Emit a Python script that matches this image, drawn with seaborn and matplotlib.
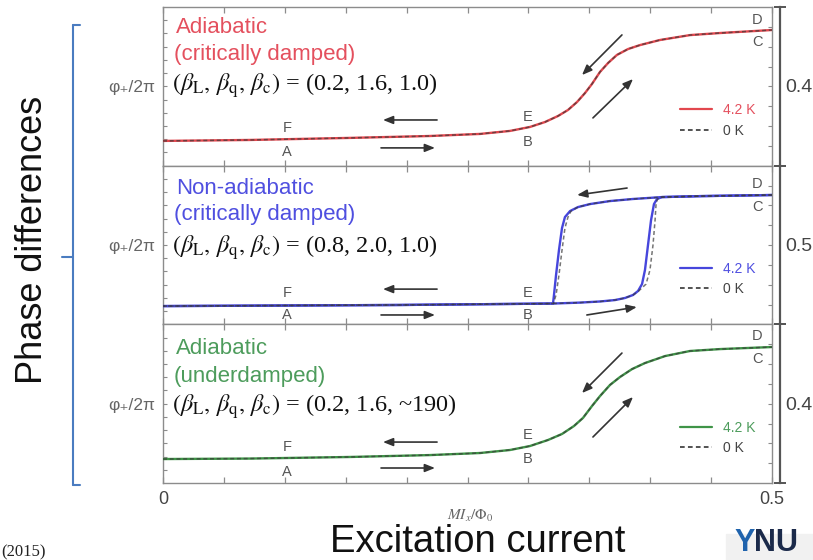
import matplotlib
matplotlib.use("Agg")
import numpy as np
import pandas as pd
import matplotlib.pyplot as plt
import seaborn as sns
from matplotlib.lines import Line2D
from matplotlib.patches import Rectangle
from matplotlib.ticker import MultipleLocator, FixedLocator, FuncFormatter

# ---------------- data (x = M Ix / Phi0, y = normalised phase in each panel) ----------------
red_x = [0, 0.0714, 0.1535, 0.2192, 0.2603, 0.2849, 0.3013, 0.3136, 0.3243, 0.3325, 0.3399,
         0.3465, 0.3522, 0.3588, 0.3654, 0.3727, 0.3818, 0.3916, 0.4080, 0.4327, 0.4573, 0.5]
red_y = [0.156, 0.162, 0.175, 0.187, 0.200, 0.219, 0.244, 0.275, 0.313, 0.351, 0.401,
         0.458, 0.515, 0.591, 0.647, 0.698, 0.735, 0.760, 0.792, 0.823, 0.836, 0.855]
red0_y = [0.156, 0.162, 0.175, 0.187, 0.200, 0.219, 0.244, 0.275, 0.313, 0.351, 0.401,
          0.458, 0.515, 0.591, 0.647, 0.698, 0.735, 0.760, 0.792, 0.823, 0.836, 0.855]

green_x = [0, 0.0714, 0.1535, 0.2192, 0.2603, 0.2849, 0.3013, 0.3161, 0.3276, 0.3374, 0.3448,
           0.3522, 0.3588, 0.3670, 0.3752, 0.3851, 0.3957, 0.4122, 0.4327, 0.4573, 0.5]
green_y = [0.151, 0.154, 0.164, 0.176, 0.189, 0.208, 0.233, 0.271, 0.309, 0.359, 0.410,
           0.485, 0.548, 0.618, 0.668, 0.718, 0.756, 0.800, 0.832, 0.844, 0.857]
green0_y = [0.151, 0.154, 0.164, 0.176, 0.189, 0.208, 0.233, 0.271, 0.309, 0.359, 0.410,
            0.485, 0.548, 0.618, 0.668, 0.718, 0.756, 0.800, 0.832, 0.844, 0.857]

blue_fwd_x = [0, 0.1946, 0.3202, 0.3424, 0.3588, 0.3711, 0.3793, 0.3859, 0.3900, 0.3933,
              0.3957, 0.3982, 0.4007, 0.4031, 0.4056, 0.4097, 0.4409, 0.5]
blue_fwd_y = [0.115, 0.122, 0.131, 0.137, 0.144, 0.153, 0.166, 0.185, 0.210, 0.254,
              0.342, 0.500, 0.657, 0.758, 0.790, 0.802, 0.808, 0.815]
blue0_fwd_x = [0, 0.1946, 0.3202, 0.3424, 0.3588, 0.3711, 0.3793, 0.3859, 0.3905, 0.3966,
               0.3998, 0.4023, 0.4040, 0.4048, 0.4060, 0.4097, 0.4409, 0.5]
blue_bwd_x = [0.5, 0.4409, 0.4097, 0.3859, 0.3670, 0.3506, 0.3407, 0.3342, 0.3300, 0.3276,
              0.3251, 0.3227, 0.3210, 0.3202, 0.1946, 0]
blue_bwd_y = [0.815, 0.808, 0.802, 0.790, 0.777, 0.758, 0.739, 0.714, 0.676, 0.607,
              0.468, 0.311, 0.185, 0.131, 0.122, 0.115]
blue0_bwd_x = [0.5, 0.4409, 0.4097, 0.3859, 0.3670, 0.3506, 0.3407, 0.3350, 0.3325, 0.3300,
               0.3276, 0.3251, 0.3227, 0.3205, 0.1946, 0]

panel_titles = [["Adiabatic", "(critically damped)"],
                ["Non-adiabatic", "(critically damped)"],
                ["Adiabatic", "(underdamped)"]]
panel_params = ["(0.2, 1.6, 1.0)", "(0.8, 2.0, 1.0)", "(0.2, 1.6, ~190)"]
right_labels = ["0.4", "0.5", "0.4"]
legend_labels = ["4.2 K", "0 K"]
x_ticklabels = {0.0: "0", 0.5: "0.5"}

# ---------------- styling ----------------
sns.set_theme(style="white")
plt.rcParams['font.family'] = ['Liberation Sans', 'DejaVu Sans']
plt.rcParams['mathtext.fontset'] = 'stix'

line_cols = ["#e2474e", "#4646dc", "#3f9447"]
text_cols = ["#e4505e", "#4f4fe0", "#4d9c5c"]
frame_col = "#8c8c8c"
dash_style = (0, (2.6, 1.8))

fig = plt.figure(figsize=(8.13, 5.6), dpi=100)
gs = fig.add_gridspec(3, 1, left=163/813, right=772/813, top=1-7/560, bottom=1-483/560, hspace=0)
axes = [fig.add_subplot(gs[i]) for i in range(3)]

letters = [
    dict(F=(0.1018, 0.238), A=(0.1018, 0.086), E=(0.2995, 0.307), B=(0.2995, 0.149), D=(0.4877, 0.918), C=(0.4877, 0.779)),
    dict(F=(0.1018, 0.197), A=(0.1018, 0.059), E=(0.2995, 0.197), B=(0.2995, 0.059), D=(0.4877, 0.884), C=(0.4877, 0.739)),
    dict(F=(0.1018, 0.227), A=(0.1018, 0.069), E=(0.2995, 0.302), B=(0.2995, 0.151), D=(0.4877, 0.926), C=(0.4877, 0.781)),
]
arrows = [
    [((0.225, 0.288), (0.1806, 0.288)), ((0.179, 0.112), (0.2233, 0.112)),
     ((0.3768, 0.824), (0.344, 0.571)), ((0.353, 0.301), (0.3859, 0.546))],
    [((0.225, 0.222), (0.1806, 0.222)), ((0.179, 0.059), (0.2233, 0.059)),
     ((0.381, 0.859), (0.340, 0.815)), ((0.348, 0.059), (0.389, 0.109))],
    [((0.225, 0.258), (0.1806, 0.258)), ((0.179, 0.0945), (0.2233, 0.0945)),
     ((0.3768, 0.819), (0.344, 0.567)), ((0.353, 0.290), (0.3859, 0.542))],
]
title_y = [(0.870, 0.700, 0.505), (0.855, 0.690, 0.485), (0.845, 0.670, 0.482)]

curves = [
    [(red_x, red_y, "solid"), (red_x, red0_y, "dash")],
    [(blue_fwd_x, blue_fwd_y, "solid"), (blue_bwd_x, blue_bwd_y, "solid"),
     (blue0_fwd_x, blue_fwd_y, "dash"), (blue0_bwd_x, blue_bwd_y, "dash")],
    [(green_x, green_y, "solid"), (green_x, green0_y, "dash")],
]

for i, ax in enumerate(axes):
    col = line_cols[i]
    for (xs, ys, kind) in curves[i]:
        df = pd.DataFrame({"x": xs, "y": ys})
        if kind == "solid":
            sns.lineplot(data=df, x="x", y="y", ax=ax, color=col, lw=1.7, sort=False,
                         estimator=None, zorder=3)
        else:
            sns.lineplot(data=df, x="x", y="y", ax=ax, color="#3a3a3a", lw=1.1, sort=False,
                         estimator=None, linestyle=dash_style, alpha=0.7, zorder=4)
    ax.set_xlim(0, 0.5)
    ax.set_ylim(0, 1)
    ax.set_xlabel("")
    ax.set_ylabel("")

    for s in ["left", "top", "bottom"]:
        ax.spines[s].set_color(frame_col)
        ax.spines[s].set_linewidth(1.0)
    ax.spines["right"].set_position(("outward", 6))
    ax.spines["right"].set_color("#555555")
    ax.spines["right"].set_linewidth(1.6)

    ax.xaxis.set_major_locator(MultipleLocator(0.05))
    ax.tick_params(axis="x", which="major", direction="in", top=True, bottom=True,
                   length=4, width=0.9, color=frame_col, labelsize=13, labelcolor="#444444", pad=6)
    if i == 2:
        ax.xaxis.set_major_formatter(FuncFormatter(
            lambda v, p: x_ticklabels.get(round(v, 3), "")))
    else:
        ax.tick_params(axis="x", labelbottom=False)

    ax.yaxis.set_major_locator(FixedLocator([0, 1]))
    ax.yaxis.set_minor_locator(MultipleLocator(1/12))
    ax.tick_params(axis="y", which="major", left=False, right=True, direction="inout",
                   length=8, width=1.4, color="#555555", labelleft=False, labelright=False)
    ax.tick_params(axis="y", which="minor", left=True, right=False, direction="in",
                   length=3, width=0.8, color=frame_col)

    sec = ax.secondary_yaxis(1.0)
    sec.set_yticks(np.arange(0.125, 1.0, 0.125))
    sec.tick_params(direction="in", length=3, width=0.8, color=frame_col, labelright=False)
    sec.spines["right"].set_color(frame_col)
    sec.spines["right"].set_linewidth(1.0)

    t1, t2 = panel_titles[i]
    ax.text(0.021, title_y[i][0], t1, transform=ax.transAxes, color=text_cols[i],
            fontsize=16, ha="left", va="center")
    ax.text(0.018, title_y[i][1], t2, transform=ax.transAxes, color=text_cols[i],
            fontsize=16, ha="left", va="center")
    ax.text(0.0150, title_y[i][2],
            r"$(\beta_{\mathrm{L}},\, \beta_{\mathrm{q}},\, \beta_{\mathrm{c}})$ = " + panel_params[i],
            transform=ax.transAxes, color="#111111", fontsize=17.5, ha="left", va="center",
            family=["Liberation Serif", "DejaVu Serif"])

    ax.text(-0.013, 0.49, "φ₊/2π", transform=ax.transAxes, ha="right", va="center",
            fontsize=12.5, color="#666666", family=["Liberation Sans", "DejaVu Sans"])
    ax.text(1.022, 0.49, right_labels[i], transform=ax.transAxes, ha="left", va="center",
            fontsize=14, color="#444444")

    for lab, (lx, ly) in letters[i].items():
        ax.text(lx, ly, lab, ha="center", va="center", fontsize=10.5, color="#555555")

    for (start, end) in arrows[i]:
        ax.annotate("", xy=end, xytext=start,
                    arrowprops=dict(arrowstyle="-|>,head_length=0.5,head_width=0.2",
                                    color="#333333", lw=1.2,
                                    mutation_scale=12, shrinkA=0, shrinkB=0))

    handles = [Line2D([], [], color=col, lw=1.6),
               Line2D([], [], color="#444444", lw=1.3, linestyle=dash_style)]
    ax.legend(handles, legend_labels, loc="center left", bbox_to_anchor=(0.849, 0.285),
              frameon=False, fontsize=10, handlelength=2.3, handletextpad=0.8,
              labelspacing=0.45, borderpad=0, borderaxespad=0,
              labelcolor=[text_cols[i], "#444444"])

# ---------------- figure-level text ----------------
fig.text(33/813, 1-240/560, "Phase differences", rotation=90, fontsize=26,
         ha="center", va="center", color="#111111")
fig.text(470/813, 1-516/560, r"$MI_x/\Phi_0$", fontsize=11, ha="center", va="center",
         color="#666666")
fig.text(478/813, 1-542/560, "Excitation current", fontsize=27.5, ha="center", va="center",
         color="#111111")
fig.text(0.002, 1-556/560, "(2015)", fontsize=12, ha="left", va="baseline",
         family=["Liberation Serif", "DejaVu Serif"], color="#222222")

bc = "#4a7cc0"
bx, btop, bbot, bmid = 73/813, 1-25/560, 1-485/560, 1-257/560
fig.add_artist(Line2D([bx, bx], [btop, bbot], color=bc, lw=1.5, transform=fig.transFigure))
fig.add_artist(Line2D([bx, 80/813], [btop, btop], color=bc, lw=1.5, transform=fig.transFigure))
fig.add_artist(Line2D([bx, 80/813], [bbot, bbot], color=bc, lw=1.5, transform=fig.transFigure))
fig.add_artist(Line2D([62/813, bx], [bmid, bmid], color=bc, lw=1.5, transform=fig.transFigure))

fig.add_artist(Rectangle((726/813, 0), 87/813, 26/560, transform=fig.transFigure,
                         color="#f1f1f1", zorder=0))
ty = fig.text(734/813, 1-558/560, "Y", fontsize=22, weight="bold", color="#1f63ad",
              ha="left", va="bottom")
plt.annotate("NU", xy=(1.0, 0.0), xycoords=ty, ha="left", va="bottom", fontsize=22,
             weight="bold", color="#1b2a4a", annotation_clip=False)

fig.savefig("out.png", dpi=100)
